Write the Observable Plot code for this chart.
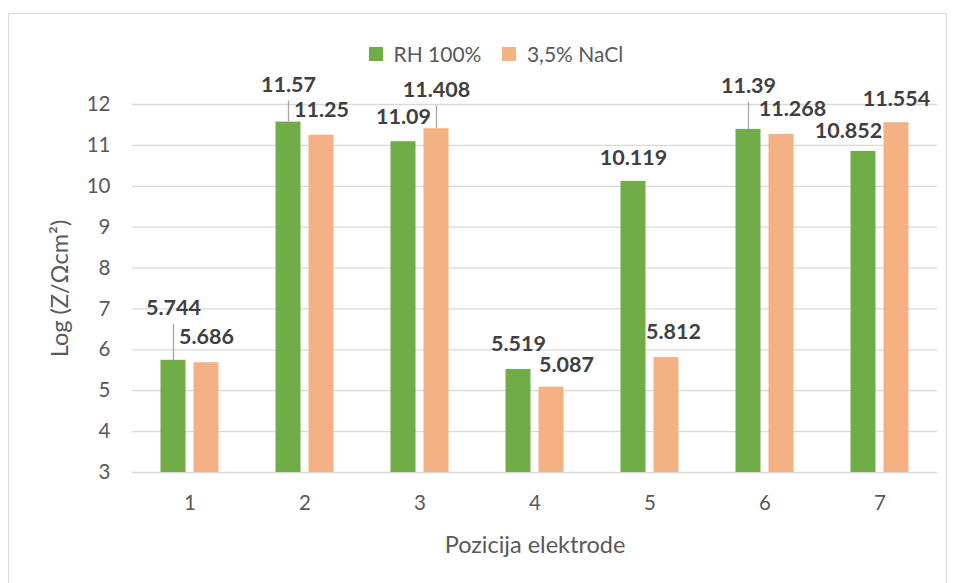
<!DOCTYPE html>
<html>
<head>
<meta charset="utf-8">
<script src="https://cdn.jsdelivr.net/npm/d3@7"></script>
<script src="https://cdn.jsdelivr.net/npm/@observablehq/plot@0.6"></script>
<style>
  body { margin: 0; background: #fff; }
  #wrap { position: relative; width: 957px; height: 583px; overflow: hidden; font-family: Lato, sans-serif; }
  #frame { position: absolute; left: 8px; top: 13px; width: 939px; height: 640px; border: 1px solid #d9d9d9; box-sizing: border-box; }
  #chart { position: absolute; left: 0; top: 0; }
  #legend { position: absolute; left: 369px; top: 37px; }
</style>
</head>
<body>
<div id="wrap"><div id="frame"></div><div id="chart"></div><div id="legend"></div></div>
<script>
// ---- data ----
const positions = ["1", "2", "3", "4", "5", "6", "7"];
const series = ["RH 100%", "3,5% NaCl"];
const rh100 = [5.744, 11.57, 11.09, 5.519, 10.119, 11.39, 10.852];
const nacl = [5.686, 11.25, 11.408, 5.087, 5.812, 11.268, 11.554];
const yTicks = [3, 4, 5, 6, 7, 8, 9, 10, 11, 12];
const yTitle = "Log (Z/Ωcm²)";
const xTitle = "Pozicija elektrode";

// ---- styling ----
const colors = ["#70AD47", "#F4B183"];
const font = "Lato, sans-serif";
// label placement (px offsets from bar top) and leader lines
const rhDx = [0, 0, 0, 0, 0, 0, -15];
const rhDy = [-52, -37, -25, -25, -23, -43, -20];
const rhLeader = [true, true, false, false, false, true, false];
const naDx = [0, 0, 0, 15, 7, 11, 0];
const naDy = [-26, -25, -39, -22, -25, -25, -24];
const naLeader = [false, false, true, false, false, false, false];

const rows = positions.flatMap((p, i) => [
  {pos: p, series: series[0], value: rh100[i], dx: rhDx[i], dy: rhDy[i], leader: rhLeader[i]},
  {pos: p, series: series[1], value: nacl[i], dx: naDx[i], dy: naDy[i], leader: naLeader[i]}
]);

const labelMarks = rows.map(r => Plot.text([r], {
  fx: "pos", x: "series", y: "value", text: d => String(d.value),
  dx: r.dx, dy: r.dy, fontSize: 21.5, fontWeight: "bold", fill: "#404040",
  fontFamily: font, lineAnchor: "middle"
}));
const leaderMarks = rows.filter(r => r.leader).map(r => Plot.ruleX([r], {
  fx: "pos", x: "series", y1: "value", y2: "value",
  insetTop: r.dy + 16, stroke: "#a6a6a6", strokeWidth: 1.3
}));

const chart = Plot.plot({
  width: 957,
  height: 583,
  marginTop: 104,
  marginBottom: 111,
  marginLeft: 129.5,
  marginRight: 17,
  style: {fontFamily: font, background: "transparent", overflow: "visible"},
  fx: {domain: positions, padding: 0},
  x: {domain: series, paddingInner: 0.235, paddingOuter: 0.82, axis: null},
  y: {domain: [yTicks[0], yTicks[yTicks.length - 1]]},
  color: {domain: series, range: colors},
  marks: [
    Plot.gridY(yTicks, {stroke: "#d9d9d9", strokeOpacity: 1, strokeWidth: 1.3}),
    Plot.axisY(yTicks, {
      tickSize: 0, tickPadding: 22, fontSize: 20.5, fill: "#595959", label: null
    }),
    Plot.axisY([], {
      tickSize: 0, fontSize: 23.5, fill: "#595959",
      label: yTitle, labelAnchor: "center", labelOffset: 81, labelArrow: "none"
    }),
    Plot.axisFx({
      anchor: "bottom", tickSize: 0, tickPadding: 23, fontSize: 20.5, fill: "#595959", label: null
    }),
    Plot.axisFx([], {
      anchor: "bottom", tickSize: 0, fontSize: 23.5, fill: "#595959",
      label: xTitle, labelAnchor: "center", labelOffset: 80, labelArrow: "none"
    }),
    Plot.barY(rows, {fx: "pos", x: "series", y1: yTicks[0], y2: "value", fill: "series"}),
    ...leaderMarks,
    ...labelMarks
  ]
});
document.getElementById("chart").appendChild(chart);

const legend = chart.legend("color", {
  swatchSize: 14,
  style: {fontSize: "21px", fontFamily: font, color: "#595959"}
});
document.getElementById("legend").appendChild(legend);
</script>
</body>
</html>
